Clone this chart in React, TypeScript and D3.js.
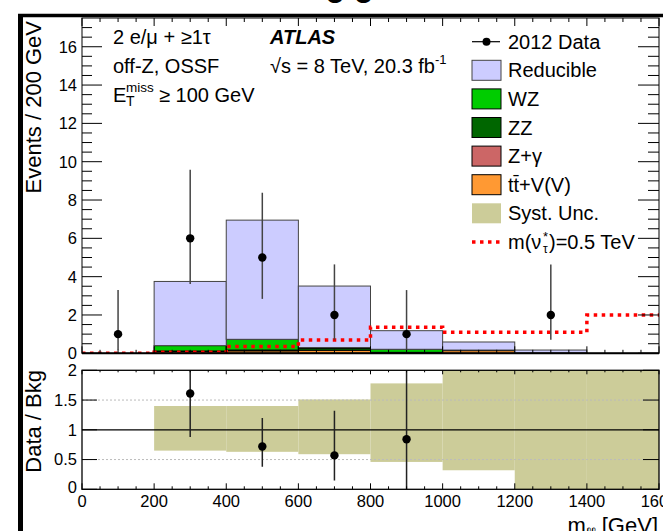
import React from "react";
import * as d3 from "d3";

// ---------- data ----------
const BIN_EDGES = [0, 200, 400, 600, 800, 1000, 1200, 1400, 1600];
const TTV = [0, 0.09, 0.13, 0.16, 0.02, 0.14, 0, 0];
const ZGAMMA = [0, 0, 0, 0, 0, 0, 0, 0];
const ZZ = [0, 0.03, 0.04, 0.1, 0.03, 0.03, 0.02, 0];
const WZ = [0, 0.28, 0.56, 0.04, 0.16, 0, 0, 0];
const REDUCIBLE = [0, 3.35, 6.22, 3.21, 0.97, 0.42, 0.15, 0];
const SIGNAL = [0, 0.05, 0.35, 0.69, 1.36, 1.1, 1.1, 2.0];

const DATA_X = [100, 300, 500, 700, 900, 1300];
const DATA_N = [1, 6, 5, 2, 1, 2];
const DATA_LO = [0.17, 3.62, 2.84, 0.71, 0.17, 0.71];
const DATA_HI = [3.3, 9.58, 8.38, 4.64, 3.3, 4.64];

const RATIO_X = [300, 500, 700, 900];
const RATIO_V = [1.61, 0.72, 0.57, 0.84];
const RATIO_LO = [0.88, 0.38, 0.15, 0.0];
const RATIO_HI = [2.55, 1.2, 1.32, 2.8];

const SYST_LO = [NaN, 0.65, 0.63, 0.59, 0.46, 0.32, 0, 0];
const SYST_HI = [NaN, 1.4, 1.4, 1.51, 1.78, 2.3, 2.5, 2.5];

const X_MAJOR = [0, 200, 400, 600, 800, 1000, 1200, 1400, 1600];
const Y_TOP_MAJOR = [0, 2, 4, 6, 8, 10, 12, 14, 16];
const Y_BOT_LABELS = ["0", "0.5", "1", "1.5", "2"];
const Y_BOT_MAJOR = [0, 0.5, 1, 1.5, 2];

const COLORS = {
  reducible: "#ccccff",
  wz: "#00cc00",
  zz: "#006600",
  zg: "#cc6666",
  ttv: "#ff9933",
  syst: "#cccc99",
  signal: "#ff0000",
};

const FONT = "'Liberation Sans', Arial, Helvetica, sans-serif";

export default function App() {
  const L = 82, R = 659;
  const TOP = 18, TB = 353.3;
  const BT = 370.3, BB = 489.3;

  const x = d3.scaleLinear().domain([0, 1600]).range([L, R]);
  const yT = d3.scaleLinear().domain([0, 17.5]).range([TB, TOP]);
  const yB = d3.scaleLinear().domain([0, 2]).range([BB, BT]);

  const minorX = d3.range(0, 1601, 50);
  const minorYT = d3.range(0, 17.5, 0.5);

  const layers = [
    { vals: TTV, fill: COLORS.ttv, stroke: "#000" },
    { vals: ZGAMMA, fill: COLORS.zg, stroke: "#000" },
    { vals: ZZ, fill: COLORS.zz, stroke: "#000" },
    { vals: WZ, fill: COLORS.wz, stroke: "#000" },
    { vals: REDUCIBLE, fill: COLORS.reducible, stroke: "#444" },
  ];
  const cum = BIN_EDGES.slice(0, -1).map(() => 0);
  const rects: any[] = [];
  layers.forEach((ly, li) => {
    ly.vals.forEach((v, i) => {
      const y0 = cum[i];
      const y1 = y0 + v;
      cum[i] = y1;
      if (v > 0) {
        rects.push(
          <rect
            key={`s${li}-${i}`}
            x={x(BIN_EDGES[i])}
            y={yT(y1)}
            width={x(BIN_EDGES[i + 1]) - x(BIN_EDGES[i])}
            height={yT(y0) - yT(y1)}
            fill={ly.fill}
            stroke={ly.stroke}
            strokeWidth={1}
          />
        );
      }
    });
  });

  const sigPts: [number, number][] = BIN_EDGES.map((e, i) => [e, SIGNAL[Math.min(i, SIGNAL.length - 1)]]);
  const sigLine = d3
    .line<[number, number]>()
    .x((d) => x(d[0]))
    .y((d) => yT(d[1]))
    .curve(d3.curveStepAfter)(sigPts) as string;

  const legendItems = [
    { type: "data", label: "2012 Data" },
    { type: "box", fill: COLORS.reducible, stroke: "#444", label: "Reducible" },
    { type: "box", fill: COLORS.wz, stroke: "#000", label: "WZ" },
    { type: "box", fill: COLORS.zz, stroke: "#000", label: "ZZ" },
    { type: "box", fill: COLORS.zg, stroke: "#000", label: "Z+\u03b3" },
    { type: "box", fill: COLORS.ttv, stroke: "#000", label: "tt\u0304+V(V)" },
    { type: "box", fill: COLORS.syst, stroke: "none", label: "Syst. Unc." },
    { type: "sig", label: "" },
  ];
  const legY0 = 41.7, legDY = 28.6, legX0 = 472, legX1 = 501, legTX = 508;

  return (
    <svg
      width={663}
      height={531}
      style={{ position: "absolute", left: 0, top: 0, display: "block", background: "#fff" }}
      fontFamily={FONT}
    >
      <defs>
        <clipPath id="clipTop">
          <rect x={L} y={TOP} width={R - L} height={TB - TOP} />
        </clipPath>
        <clipPath id="clipBot">
          <rect x={L} y={BT} width={R - L} height={BB - BT} />
        </clipPath>
      </defs>
      <rect x={0} y={0} width={663} height={531} fill="#fff" />

      {/* partial title glyphs at the very top */}
      <text x={349} y={3} fontSize={34} fontWeight="bold" textAnchor="middle" fill="#000">
        e e
      </text>

      {/* outer thick border */}
      <line x1={18} x2={663} y1={15.5} y2={15.5} stroke="#000" strokeWidth={3.5} />
      <line x1={20.5} x2={20.5} y1={14} y2={531} stroke="#000" strokeWidth={5} />

      {/* ================= upper panel ================= */}
      <g clipPath="url(#clipTop)">{rects}</g>
      <path d={sigLine} fill="none" stroke={COLORS.signal} strokeWidth={3.5} strokeDasharray="3.5 4.5" clipPath="url(#clipTop)" />

      <g>
        {DATA_X.map((dx, i) => (
          <g key={`d${i}`}>
            <line x1={x(dx)} x2={x(dx)} y1={yT(DATA_LO[i])} y2={yT(DATA_HI[i])} stroke="#444" strokeWidth={1.5} />
            <circle cx={x(dx)} cy={yT(DATA_N[i])} r={4.2} fill="#000" />
          </g>
        ))}
      </g>

      <rect x={L} y={TOP} width={R - L} height={TB - TOP} fill="none" stroke="#000" strokeWidth={1} />
      <line x1={L} x2={R} y1={TB} y2={TB} stroke="#000" strokeWidth={2} />
      {minorYT.map((v) => {
        const major = Math.abs(v % 2) < 1e-9;
        return (
          <g key={`yt${v}`}>
            <line x1={L} x2={L + (major ? 20 : 10)} y1={yT(v)} y2={yT(v)} stroke="#000" strokeWidth={1} />
            <line x1={R} x2={R - (major ? 21 : 11)} y1={yT(v)} y2={yT(v)} stroke="#000" strokeWidth={1} />
          </g>
        );
      })}
      {Y_TOP_MAJOR.map((v) => (
        <text key={`ytl${v}`} x={77} y={yT(v)} dy="0.36em" fontSize={16.5} textAnchor="end" fill="#000">
          {v}
        </text>
      ))}
      {minorX.map((v) => {
        const major = v % 200 === 0;
        return (
          <g key={`xt${v}`}>
            <line x1={x(v)} x2={x(v)} y1={TB} y2={TB - (major ? 7 : 3.5)} stroke="#000" strokeWidth={1} />
            <line x1={x(v)} x2={x(v)} y1={TOP} y2={TOP + (major ? 8 : 4)} stroke="#000" strokeWidth={1} />
          </g>
        );
      })}

      {/* annotations */}
      <text x={113} y={44} fontSize={20} fill="#000">{"2 e/\u03bc + \u22651\u03c4"}</text>
      <text x={113} y={73} fontSize={20} fill="#000">off-Z, OSSF</text>
      <text x={113} y={101.7} fontSize={20} fill="#000">E</text>
      <text x={126} y={92} fontSize={13.5} fill="#000">miss</text>
      <text x={126} y={106} fontSize={14} fill="#000">T</text>
      <text x={159} y={101.7} fontSize={20} fill="#000">{"\u2265 100 GeV"}</text>

      <text x={270} y={44} fontSize={20} fontWeight="bold" fontStyle="italic" fill="#000">ATLAS</text>
      <text x={270} y={73} fontSize={20} fill="#000">
        {"\u221as = 8 TeV, 20.3 fb"}
        <tspan dy={-9} fontSize={13}>-1</tspan>
      </text>

      {/* legend */}
      {legendItems.map((it, i) => {
        const cy = legY0 + i * legDY;
        let marker: any = null;
        if (it.type === "data") {
          marker = (
            <g>
              <line x1={legX0} x2={legX1 - 1} y1={cy} y2={cy} stroke="#000" strokeWidth={1.2} />
              <circle cx={(legX0 + legX1) / 2} cy={cy} r={4} fill="#000" />
            </g>
          );
        } else if (it.type === "box") {
          marker = (
            <rect
              x={legX0}
              y={cy - 10}
              width={legX1 - legX0}
              height={20}
              fill={it.fill}
              stroke={it.stroke}
              strokeWidth={it.stroke === "none" ? 0 : 1}
            />
          );
        } else {
          marker = (
            <line x1={legX0} x2={legX1} y1={cy} y2={cy} stroke={COLORS.signal} strokeWidth={3.5} strokeDasharray="3.5 4.5" />
          );
        }
        return (
          <g key={`leg${i}`}>
            {marker}
            {it.type !== "sig" ? (
              <text x={legTX} y={cy + 7} fontSize={20} fill="#000">
                {it.label}
              </text>
            ) : (
              <g>
                <text x={legTX} y={cy + 7} fontSize={20} fill="#000">{"m(\u03bd"}</text>
                <text x={543} y={cy - 1} fontSize={13} fill="#000">*</text>
                <text x={543} y={cy + 11} fontSize={12} fill="#000">{"\u03c4"}</text>
                <text x={549} y={cy + 7} fontSize={20} fill="#000">{")=0.5 TeV"}</text>
              </g>
            )}
          </g>
        );
      })}

      <text transform={`translate(41,21) rotate(-90)`} fontSize={22} textAnchor="end" fill="#000">
        Events / 200 GeV
      </text>

      {/* ================= lower panel ================= */}
      <g clipPath="url(#clipBot)">
        {SYST_LO.map((lo, i) =>
          isNaN(lo) ? null : (
            <rect
              key={`sy${i}`}
              x={x(BIN_EDGES[i])}
              y={yB(SYST_HI[i])}
              width={x(BIN_EDGES[i + 1]) - x(BIN_EDGES[i])}
              height={yB(lo) - yB(SYST_HI[i])}
              fill={COLORS.syst}
            />
          )
        )}
        {[0.5, 1.5].map((v) => (
          <line key={`g${v}`} x1={L} x2={R} y1={yB(v)} y2={yB(v)} stroke="#bbb" strokeWidth={1} strokeDasharray="2 2" />
        ))}
        <line x1={L} x2={R} y1={yB(1)} y2={yB(1)} stroke="#000" strokeWidth={1.2} />
        {RATIO_X.map((rx, i) => (
          <g key={`r${i}`}>
            <line x1={x(rx)} x2={x(rx)} y1={yB(RATIO_LO[i])} y2={yB(RATIO_HI[i])} stroke="#222" strokeWidth={1.5} />
            <circle cx={x(rx)} cy={yB(RATIO_V[i])} r={4.2} fill="#000" />
          </g>
        ))}
      </g>
      <rect x={L} y={BT} width={R - L} height={BB - BT} fill="none" stroke="#000" strokeWidth={1.3} />
      {Y_BOT_MAJOR.map((v) => (
        <g key={`yb${v}`}>
          <line x1={L} x2={L + 15} y1={yB(v)} y2={yB(v)} stroke="#000" strokeWidth={1} />
          <line x1={R} x2={R - 16} y1={yB(v)} y2={yB(v)} stroke="#000" strokeWidth={1} />
        </g>
      ))}
      {Y_BOT_MAJOR.map((v, i) => (
        <text key={`ybl${v}`} x={77} y={yB(v) - (v === 0 ? 2 : 0)} dy="0.36em" fontSize={16.5} textAnchor="end" fill="#000">
          {Y_BOT_LABELS[i]}
        </text>
      ))}
      {minorX.map((v) => {
        const major = v % 200 === 0;
        return (
          <g key={`xb${v}`}>
            <line x1={x(v)} x2={x(v)} y1={BB} y2={BB - (major ? 6 : 3)} stroke="#000" strokeWidth={1} />
            <line x1={x(v)} x2={x(v)} y1={BT} y2={BT + (major ? 4 : 2)} stroke="#000" strokeWidth={1} />
          </g>
        );
      })}
      {X_MAJOR.map((v) => (
        <text key={`xl${v}`} x={x(v)} y={506.5} fontSize={16.5} textAnchor="middle" fill="#000">
          {v}
        </text>
      ))}
      <text transform={`translate(41,370) rotate(-90)`} fontSize={22} textAnchor="end" fill="#000">
        Data / Bkg
      </text>
      <text x={658} y={533} fontSize={22} textAnchor="end" fill="#000">
        m<tspan dy={5} fontSize={15}>{"\u2113\u2113"}</tspan>
        <tspan dy={-5}>{" [GeV]"}</tspan>
      </text>
    </svg>
  );
}
